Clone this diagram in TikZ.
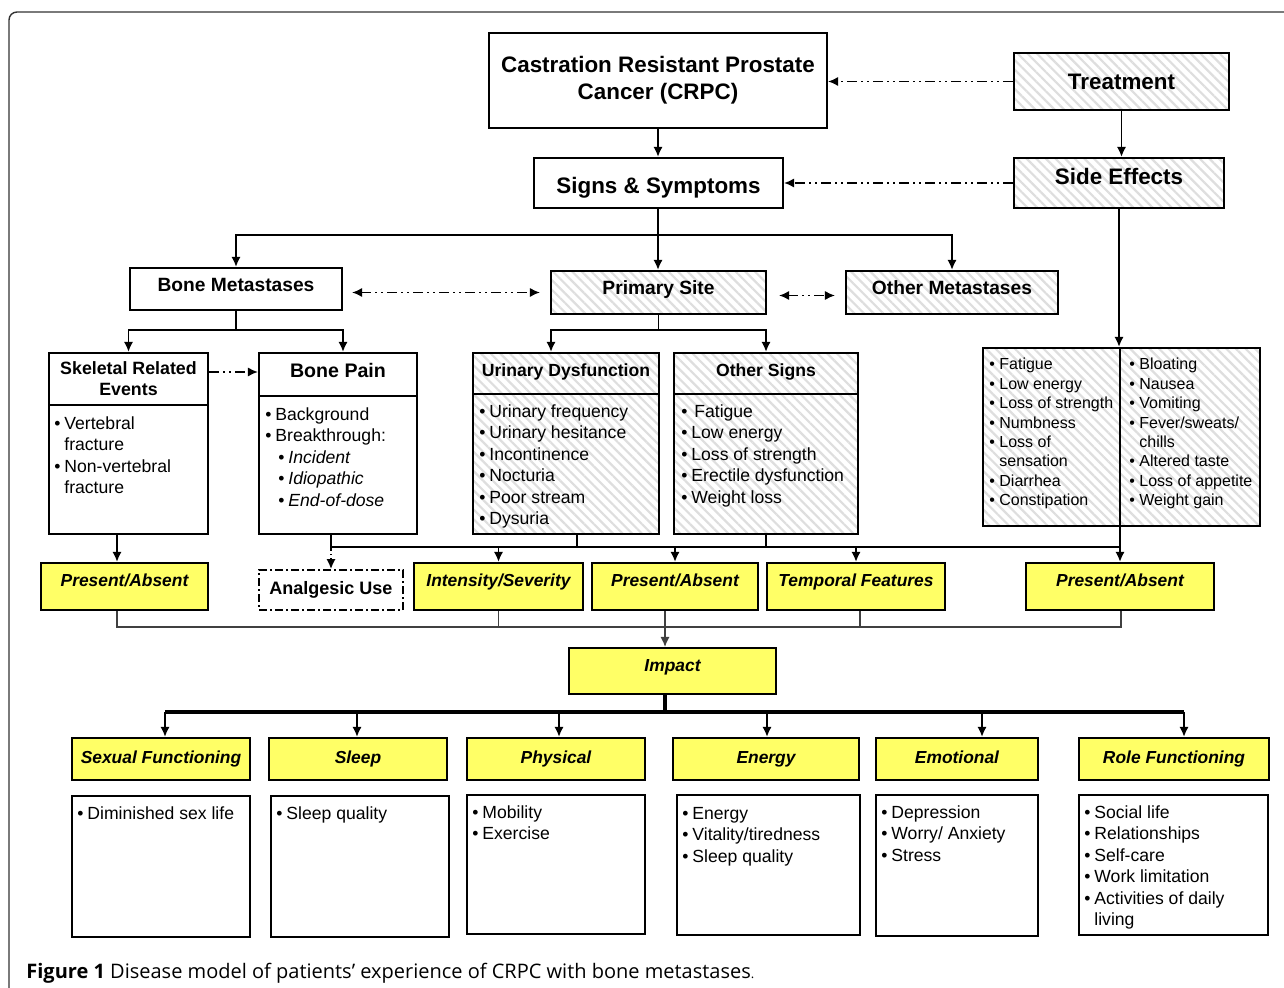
\documentclass[tikz,border=0pt]{standalone}
\usepackage{fontspec}
\setmainfont{Liberation Sans}
\newfontfamily\capfont{Open Sans}
\usetikzlibrary{arrows.meta,patterns.meta,calc}

\definecolor{boxyellow}{RGB}{255,255,102}
\definecolor{hatchgray}{RGB}{222,222,222}

\newcommand{\bul}{\strut\makebox[5pt][l]{\textbullet}}
\newcommand{\cnt}{\strut\hspace*{5pt}}
\newcommand{\sbul}{\strut\hspace*{6.5pt}\makebox[5pt][l]{\textbullet}}

\begin{document}
\begin{tikzpicture}[x=0.5pt, y=-0.5pt, >={Latex[length=5pt,width=4.6pt]},
    wd/.style={minimum width=#1*0.5pt}, ht/.style={minimum height=#1*0.5pt},
    plain/.style={draw, line width=1.1pt, fill=white, inner sep=0pt, align=center},
    hatch/.style={plain, pattern={Lines[angle=-45,distance=3.4pt,line width=1.1pt]}, pattern color=hatchgray},
    yl/.style={plain, fill=boxyellow, font=\bfseries\itshape\fontsize{8.7}{10}\selectfont, text height=6.5pt, text depth=6.8pt},
    dom/.style={yl, text depth=2.3pt},
    ttl/.style={font=\bfseries\fontsize{11.2}{13.5}\selectfont},
    hd/.style={font=\bfseries\fontsize{9.6}{10.5}\selectfont},
    lst/.style={anchor=north west, inner sep=0pt, align=left, font=\fontsize{8.8}{10.75}\selectfont},
    sml/.style={lst, font=\fontsize{8}{9.7}\selectfont},
    ln/.style={line width=0.9pt},
    arr/.style={ln, ->},
    dd/.style={line width=0.8pt, dash pattern=on 5pt off 2pt on 1pt off 2pt on 1pt off 2pt},
    fine/.style={line width=0.6pt, black!75},
    heavy/.style={line width=1.6pt}]
\useasboundingbox (0,0) rectangle (1284,988);
\draw[line width=0.7pt, black!80, rounded corners=4pt] (9,1000) -- (9,12) -- (1300,12);

% top level
\node[plain, ttl, wd=338, ht=95] (crpc) at (658,80.5) {Castration Resistant Prostate\\Cancer (CRPC)};
\node[hatch, ttl, wd=215, ht=57, text height=8.5pt, text depth=0.5pt] (treat) at (1121.5,81.5) {Treatment};
\node[plain, ttl, wd=249, ht=50, text height=11pt, text depth=0.5pt] (signs) at (658.5,183) {Signs \& Symptoms};
\node[hatch, ttl, wd=210, ht=50, text height=8.5pt, text depth=6.5pt] (side) at (1119,183) {Side Effects};

% sites
\node[plain, hd, wd=212, ht=42, text height=7.5pt, text depth=4.6pt] (bone) at (236,289) {Bone Metastases};
\node[hatch, hd, wd=215, ht=43, text height=7.5pt, text depth=5.1pt] (prim) at (658.5,292.5) {Primary Site};
\node[hatch, hd, wd=212, ht=43, text height=7.5pt, text depth=5.1pt] (other) at (952,292.5) {Other Metastases};

% symptom boxes
\node[plain, font=\bfseries\fontsize{8.9}{10.5}\selectfont, wd=159, ht=52] (sre) at (128.5,379) {Skeletal Related\\Events};
\node[plain, wd=159, ht=129] (srel) at (128.5,469.5) {};
\node[plain, font=\bfseries\fontsize{9.8}{11}\selectfont, wd=158, ht=43, text height=7.5pt, text depth=4pt] (pain) at (338,374.5) {Bone Pain};
\node[plain, wd=158, ht=138] (painl) at (338,465) {};
\node[hatch, font=\bfseries\fontsize{8.8}{10}\selectfont, wd=186, ht=41, text height=7pt, text depth=4.2pt] (uri) at (566,373.5) {Urinary Dysfunction};
\node[hatch, wd=186, ht=140] (uril) at (566,464) {};
\node[hatch, font=\bfseries\fontsize{8.8}{10}\selectfont, wd=184, ht=41, text height=7pt, text depth=4.2pt] (oth) at (766,373.5) {Other Signs};
\node[hatch, wd=184, ht=140] (othl) at (766,464) {};
\node[hatch, wd=137, ht=178] (sel) at (1051.5,437) {};
\node[hatch, wd=140, ht=178] (ser) at (1190,437) {};

\node[lst] (srelt) at (54,414) {\bul Vertebral\\\cnt fracture\\\bul Non-vertebral\\\cnt fracture};
\node[lst] (painlt) at (265,405) {\bul Background\\\bul Breakthrough:\\\sbul\textit{Incident}\\\sbul\textit{Idiopathic}\\\sbul\textit{End-of-dose}};
\node[lst] (urilt) at (479,402) {\bul Urinary frequency\\\bul Urinary hesitance\\\bul Incontinence\\\bul Nocturia\\\bul Poor stream\\\bul Dysuria};
\node[lst] (othlt) at (681,402) {\bul\,Fatigue\\\bul Low energy\\\bul Loss of strength\\\bul Erectile dysfunction\\\bul Weight loss};
\node[sml] (selt) at (989,356) {\bul Fatigue\\\bul Low energy\\\bul Loss of strength\\\bul Numbness\\\bul Loss of\\\cnt sensation\\\bul Diarrhea\\\bul Constipation};
\node[sml] (sert) at (1129,356) {\bul Bloating\\\bul Nausea\\\bul Vomiting\\\bul Fever/sweats/\\\cnt chills\\\bul Altered taste\\\bul Loss of appetite\\\bul Weight gain};

% measures
\node[yl, wd=167, ht=47] (pa1) at (124.5,586.5) {Present/Absent};
\node[plain, line width=0.9pt, dash pattern=on 4pt off 1.5pt on 1pt off 1.5pt, font=\bfseries\fontsize{9}{10}\selectfont, wd=144, ht=40, text height=7pt, text depth=2.55pt] (anal) at (331,590) {Analgesic Use};
\node[yl, wd=169, ht=47] (inten) at (498.5,586.5) {Intensity/Severity};
\node[yl, wd=166, ht=47] (pa2) at (675,586.5) {Present/Absent};
\node[yl, wd=178, ht=47] (temp) at (856,586.5) {Temporal Features};
\node[yl, wd=188, ht=47] (pa3) at (1120,586.5) {Present/Absent};
\node[yl, wd=207, ht=46, text depth=6.3pt] (imp) at (672.5,671) {Impact};

% domains
\node[dom, wd=178, ht=42] (sex) at (161,759) {Sexual Functioning};
\node[dom, wd=178, ht=42] (sleep) at (358,759) {Sleep};
\node[dom, wd=178, ht=42] (phys) at (556,759) {Physical};
\node[dom, wd=186, ht=42] (energy) at (766,759) {Energy};
\node[dom, wd=162, ht=42] (emo) at (957,759) {Emotional};
\node[dom, wd=190, ht=42] (role) at (1174,759) {Role Functioning};

\node[plain, wd=178, ht=141] (sexl) at (161,866.5) {};
\node[plain, wd=178, ht=141] (sleepl) at (360,866.5) {};
\node[plain, wd=178, ht=139] (physl) at (556,864.5) {};
\node[plain, wd=183, ht=140] (energyl) at (768.5,865) {};
\node[plain, wd=162, ht=141] (emol) at (957,865.5) {};
\node[plain, wd=189, ht=140] (rolel) at (1173.5,865) {};

\node[lst] (sexlt) at (77,804) {\bul Diminished sex life};
\node[lst] (sleeplt) at (276,804) {\bul Sleep quality};
\node[lst] (physlt) at (472,803) {\bul Mobility\\\bul Exercise};
\node[lst] (energylt) at (682,804) {\bul Energy\\\bul Vitality/tiredness\\\bul Sleep quality};
\node[lst] (emolt) at (881,803) {\bul Depression\\\bul Worry/ Anxiety\\\bul Stress};
\node[lst] (rolelt) at (1084,803) {\bul Social life\\\bul Relationships\\\bul Self-care\\\bul Work limitation\\\bul Activities of daily\\\cnt living};

% top connectors
\draw[arr] (crpc.south) -- (crpc.south |- signs.north);
\draw[arr] (treat.south) -- (treat.south |- side.north);
\draw[dd, ->] (treat.west) -- (treat.west -| crpc.east);
\draw[dd, ->] (side.west) -- (side.west -| signs.east);
\coordinate (j1) at (658,235);
\draw[ln] (crpc.south |- signs.south) -- (j1);
\draw[arr] (j1) -| (bone.north);
\draw[arr] (j1) -| (other.north);
\draw[arr] (j1) -- (j1 |- prim.north);
\draw[dd, <->] ($(bone.east |- prim.west)+(9,0)$) -- ($(prim.west)+(-10,0)$);
\draw[dd, <->] ($(prim.east)+(12,3)$) -- ($(other.west)+(-10,3)$);
\draw[arr] (side.south) -- (side.south |- ser.north);

% sites to symptoms
\coordinate (j2) at (236,330);
\draw[ln] (bone.south) -- (j2);
\draw[arr] (j2) -| (sre.north);
\draw[arr] (j2) -| ($(pain.north)+(5,0)$);
\draw[dd, ->] ($(sre.east)+(0,-7)$) -- ($(pain.west)+(0,-2.5)$);
\coordinate (j3) at (658.5,330);
\draw[ln] (prim.south) -- (j3);
\draw[arr] (j3) -| ($(uri.north)+(-15,0)$);
\draw[arr] (j3) -| (oth.north);

% symptoms to measures
\coordinate (ua) at (331,547);
\coordinate (ub) at (1120,547);
\draw[ln] (anal.north |- painl.south) -- (ua) -- (ub) -- (ub |- sel.south);
\draw[ln] ($(uril.south)+(11,0)$) -- ($(uril.south)+(11,13)$);
\draw[ln] (othl.south) -- (othl.south |- ua);
\draw[ln, dash pattern=on 2pt off 1.5pt on 0.6pt off 1.5pt, ->] (ua) -- (anal.north);
\draw[arr] (inten.north |- ua) -- (inten.north);
\draw[arr] (pa2.north |- ua) -- (pa2.north);
\draw[arr] (temp.north |- ua) -- (temp.north);
\draw[arr] (pa3.north |- ua) -- (pa3.north);
\coordinate (la) at (117,627);
\coordinate (lb) at (1121,627);
\draw[arr] (la |- srel.south) -- (la |- pa1.north);

% measures to impact
\draw[fine] (la |- pa1.south) -- (la) -- (lb) -- (lb |- pa3.south);
\draw[fine] (inten.south) -- (inten.south |- la);
\draw[fine] ($(temp.south)+(4,0)$) -- ($(temp.south)+(4,17)$);
\coordinate (lc) at (665,627);
\draw[fine, ->] (lc |- pa2.south) -- (lc |- imp.north);

% impact to domains
\coordinate (ia) at (665,713);
\coordinate (ib) at ($(sex.north)+(4,-25)$);
\coordinate (ic) at ($(role.north)+(10,-25)$);
\draw[heavy] (lc |- imp.south) -- (ia);
\draw[heavy] (ib) -- (ic);
\foreach \n/\dx in {sex/4, sleep/-1, phys/3, energy/1, emo/25, role/10}
  \draw[arr] ($(\n.north)+(\dx,-25)$) -- ($(\n.north)+(\dx,0)$);

\node[anchor=base west, inner sep=0pt, font=\capfont\fontsize{10}{12}\selectfont] (cap) at (26,978) {\textbf{Figure 1} Disease model of patients’ experience of CRPC with bone metastases{\fontsize{6.5}{7}\selectfont.}};
\end{tikzpicture}
\end{document}
